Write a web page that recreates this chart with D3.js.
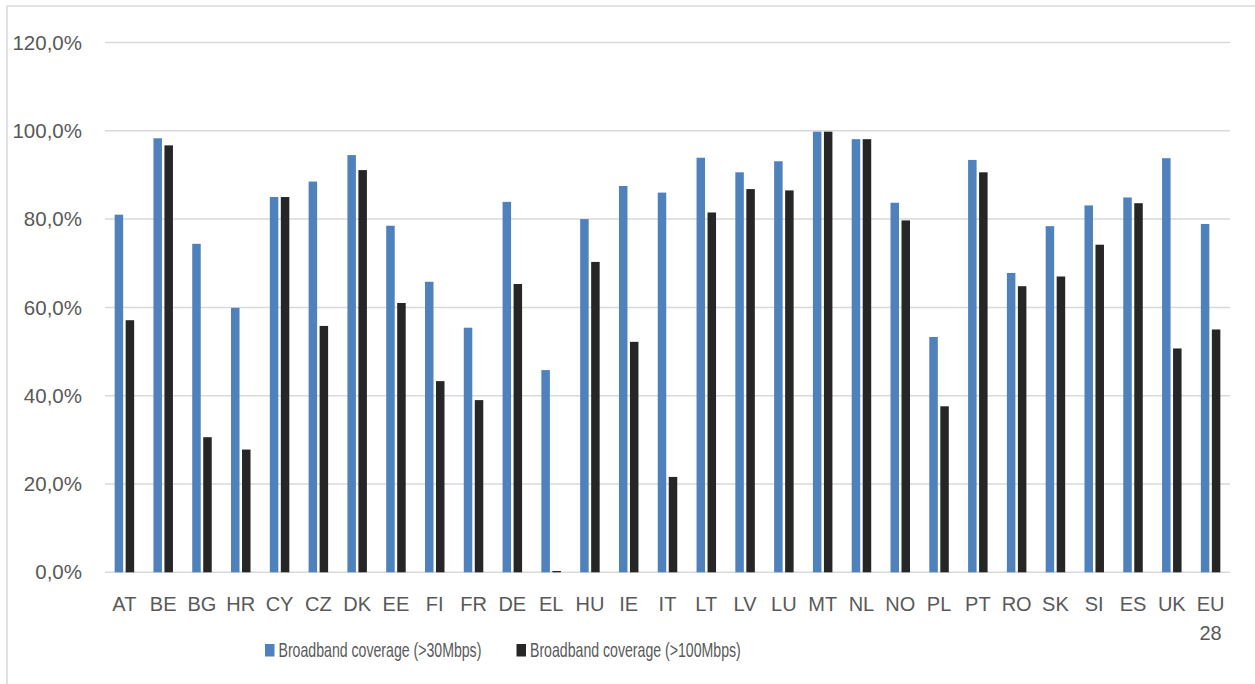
<!DOCTYPE html>
<html>
<head>
<meta charset="utf-8">
<script src="https://cdn.jsdelivr.net/npm/d3@7"></script>
<style>
  html, body { margin: 0; padding: 0; background: #fff; }
  svg { display: block; }
  text { font-family: "Liberation Sans", Arial, sans-serif; fill: #595959; }
</style>
</head>
<body>
<div id="chart"></div>
<script>
// chart data
var categories = ["AT","BE","BG","HR","CY","CZ","DK","EE","FI","FR","DE","EL","HU","IE","IT",
                  "LT","LV","LU","MT","NL","NO","PL","PT","RO","SK","SI","ES","UK","EU28"];
var series = ["Broadband coverage (>30Mbps)", "Broadband coverage (>100Mbps)"];
var cov30  = [81.0, 98.3, 74.4, 59.9, 85.0, 88.5, 94.5, 78.5, 65.8, 55.4, 83.9, 45.8, 80.0, 87.5, 86.0,
              93.9, 90.6, 93.1, 99.8, 98.1, 83.7, 53.3, 93.4, 67.8, 78.4, 83.1, 84.9, 93.8, 78.9];
var cov100 = [57.1, 96.7, 30.6, 27.8, 85.0, 55.8, 91.1, 61.0, 43.3, 39.0, 65.3, 0.3, 70.3, 52.2, 21.6,
              81.5, 86.8, 86.5, 99.8, 98.1, 79.7, 37.6, 90.6, 64.8, 67.0, 74.2, 83.6, 50.7, 55.0];
var yTicks = [0, 20, 40, 60, 80, 100, 120];
var colors = ["#4f81bd", "#262626"];

var W = 1255, H = 684;
var plot = {left: 105, right: 1230, top: 42.5, bottom: 572.3};

var svg = d3.select("#chart").append("svg")
    .attr("width", W)
    .attr("height", H);

// chart border (only left + top fall inside the picture)
svg.append("rect")
    .attr("x", 7)
    .attr("y", 6)
    .attr("width", W + 20)
    .attr("height", H + 20)
    .attr("fill", "none")
    .attr("stroke", "#d9d9d9")
    .attr("stroke-width", 1.5);

var x = d3.scaleBand()
    .domain(categories)
    .range([plot.left, plot.right])
    .padding(0);

var groupW = 19.5;
var x1 = d3.scaleBand()
    .domain([0, 1])
    .range([0, groupW])
    .paddingInner(0.227)
    .paddingOuter(0);

var y = d3.scaleLinear()
    .domain([0, 120])
    .range([plot.bottom, plot.top]);

var locale = d3.formatLocale({decimal: ",", thousands: ".", grouping: [3], currency: ["", "€"]});
var fmt = locale.format(".1f");

// gridlines
svg.append("g")
    .selectAll("line")
    .data(yTicks)
    .join("line")
    .attr("x1", plot.left)
    .attr("x2", plot.right)
    .attr("y1", d => y(d))
    .attr("y2", d => y(d))
    .attr("stroke", "#d9d9d9")
    .attr("stroke-width", 1.5);

// y labels
svg.append("g")
    .selectAll("text")
    .data(yTicks)
    .join("text")
    .attr("x", 82)
    .attr("y", d => y(d))
    .attr("dy", "0.35em")
    .attr("text-anchor", "end")
    .style("font-size", "20.5px")
    .text(d => fmt(d) + "%");

// bars
var rows = categories.map((c, i) => ({cat: c, vals: [cov30[i], cov100[i]]}));

var groups = svg.append("g")
    .selectAll("g")
    .data(rows)
    .join("g")
    .attr("transform", d => "translate(" + (x(d.cat) + (x.bandwidth() - groupW) / 2) + ",0)");

groups.selectAll("rect")
    .data(d => d.vals.map((v, k) => ({k: k, v: v})))
    .join("rect")
    .attr("x", d => x1(d.k))
    .attr("width", x1.bandwidth())
    .attr("y", d => y(d.v))
    .attr("height", d => y(0) - y(d.v))
    .attr("fill", d => colors[d.k]);

// x labels
var xl = svg.append("g")
    .selectAll("text")
    .data(categories)
    .join("text")
    .attr("x", d => x(d) + x.bandwidth() / 2)
    .attr("y", 611)
    .attr("text-anchor", "middle")
    .style("font-size", "20px");

xl.each(function(d) {
    var t = d3.select(this);
    var cx = x(d) + x.bandwidth() / 2;
    if (d === "EU28") {
        t.append("tspan").attr("x", cx).text("EU");
        t.append("tspan").attr("x", cx).attr("dy", 29).text("28");
    } else {
        t.text(d);
    }
});

// legend
var legendX = [265, 516.5];
var legendW = [203, 211];
var lg = svg.append("g")
    .selectAll("g")
    .data(series)
    .join("g")
    .attr("transform", (d, i) => "translate(" + legendX[i] + ",0)");

lg.append("rect")
    .attr("x", 0)
    .attr("y", 644)
    .attr("width", 9.5)
    .attr("height", 12.5)
    .attr("fill", (d, i) => colors[i]);

// the reference font is condensed, so squeeze each label to its measured width
lg.append("g")
    .append("text")
    .style("font-size", "20.5px")
    .text(d => d)
    .each(function(d, i) {
        var sx = legendW[i] / this.getComputedTextLength();
        d3.select(this.parentNode).attr("transform", "translate(13.5,657) scale(" + sx + ",1)");
    });
</script>
</body>
</html>
